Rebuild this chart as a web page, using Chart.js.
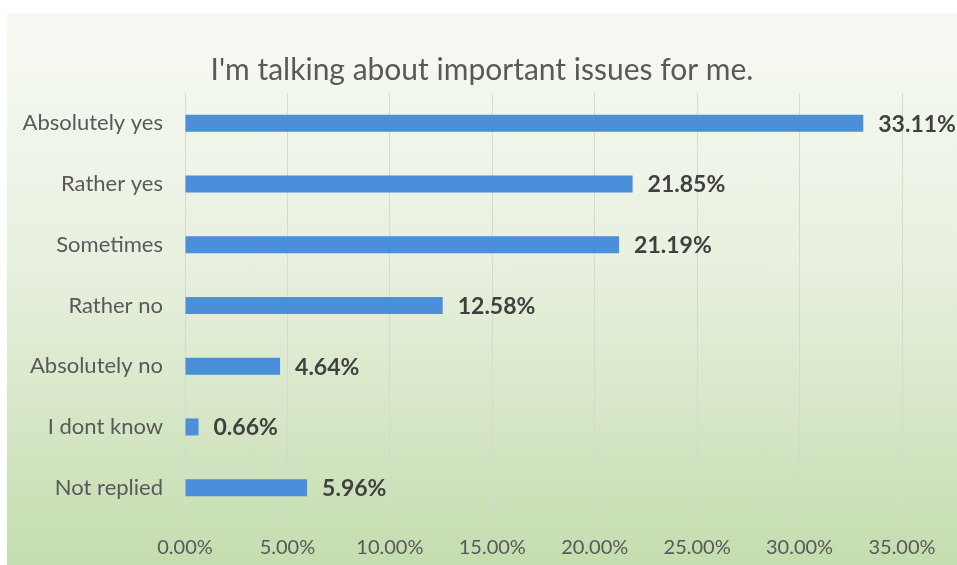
<!DOCTYPE html>
<html>
<head>
<meta charset="utf-8">
<script src="https://cdn.jsdelivr.net/npm/chart.js@4"></script>
<style>
  html, body { margin: 0; padding: 0; background: #fff; }
  #box {
    position: absolute; left: 7px; top: 13px; width: 950px; height: 552px;
    background: linear-gradient(#f7faf4 0%, #e8f0df 45%, #c4ddae 100%);
  }
  canvas { display: block; }
</style>
</head>
<body>
<div id="box"><canvas id="myChart" width="950" height="552"></canvas></div>
<script>
'use strict';

// chart data
const answers = ['Absolutely yes', 'Rather yes', 'Sometimes', 'Rather no', 'Absolutely no', 'I dont know', 'Not replied'];
const shares = [33.11, 21.85, 21.19, 12.58, 4.64, 0.66, 5.96];
const xTicks = [0, 5, 10, 15, 20, 25, 30, 35];

const FONT = 'Lato';

//// value labels at the end of each bar
const valueLabels = {
    id: 'valueLabels',
    afterDatasetsDraw(chart) {
        const ctx = chart.ctx;
        const meta = chart.getDatasetMeta(0);
        ctx.save();
        ctx.font = 'bold 23px ' + FONT;
        ctx.fillStyle = '#404040';
        ctx.textBaseline = 'middle';
        ctx.textAlign = 'left';
        meta.data.forEach((bar, i) => {
            ctx.fillText(shares[i].toFixed(2) + '%', bar.x + 15, bar.y + 1);
        });
        ctx.restore();
    }
};

var ctx = document.getElementById('myChart').getContext('2d');

var chart = new Chart(ctx, {
    type: 'bar',
    data: {
        labels: answers,
        datasets: [{
            data: shares,
            backgroundColor: '#4b8fda',
            borderWidth: 0,
            categoryPercentage: 1,
            barPercentage: 0.28
        }]
    },
    options: {
        indexAxis: 'y',
        responsive: false,
        animation: false,
        layout: { padding: 0 },
        plugins: {
            legend: { display: false },
            tooltip: { enabled: false },
            title: {
                display: true,
                text: "I'm talking about important issues for me.",
                color: '#595959',
                font: { family: FONT, size: 30, weight: 'normal' },
                padding: { top: 39, bottom: 5 }
            }
        },
        scales: {
            x: {
                min: xTicks[0],
                max: xTicks[xTicks.length - 1],
                afterBuildTicks: (scale) => {
                    scale.ticks = xTicks.map(v => ({ value: v }));
                },
                afterFit: (scale) => {
                    scale.height = 47;
                    scale.paddingRight = 55;
                },
                grid: { color: '#d5dacf', drawTicks: false },
                border: { display: false },
                ticks: {
                    padding: 18,
                    color: '#595959',
                    font: { family: FONT, size: 20 },
                    callback: (v) => Number(v).toFixed(2) + '%'
                }
            },
            y: {
                grid: { display: false, drawTicks: false },
                border: { display: false },
                afterFit: (scale) => { scale.width = 178; },
                ticks: {
                    padding: 22,
                    color: '#595959',
                    font: { family: FONT, size: 22 }
                }
            }
        }
    },
    plugins: [valueLabels]
});
</script>
</body>
</html>
